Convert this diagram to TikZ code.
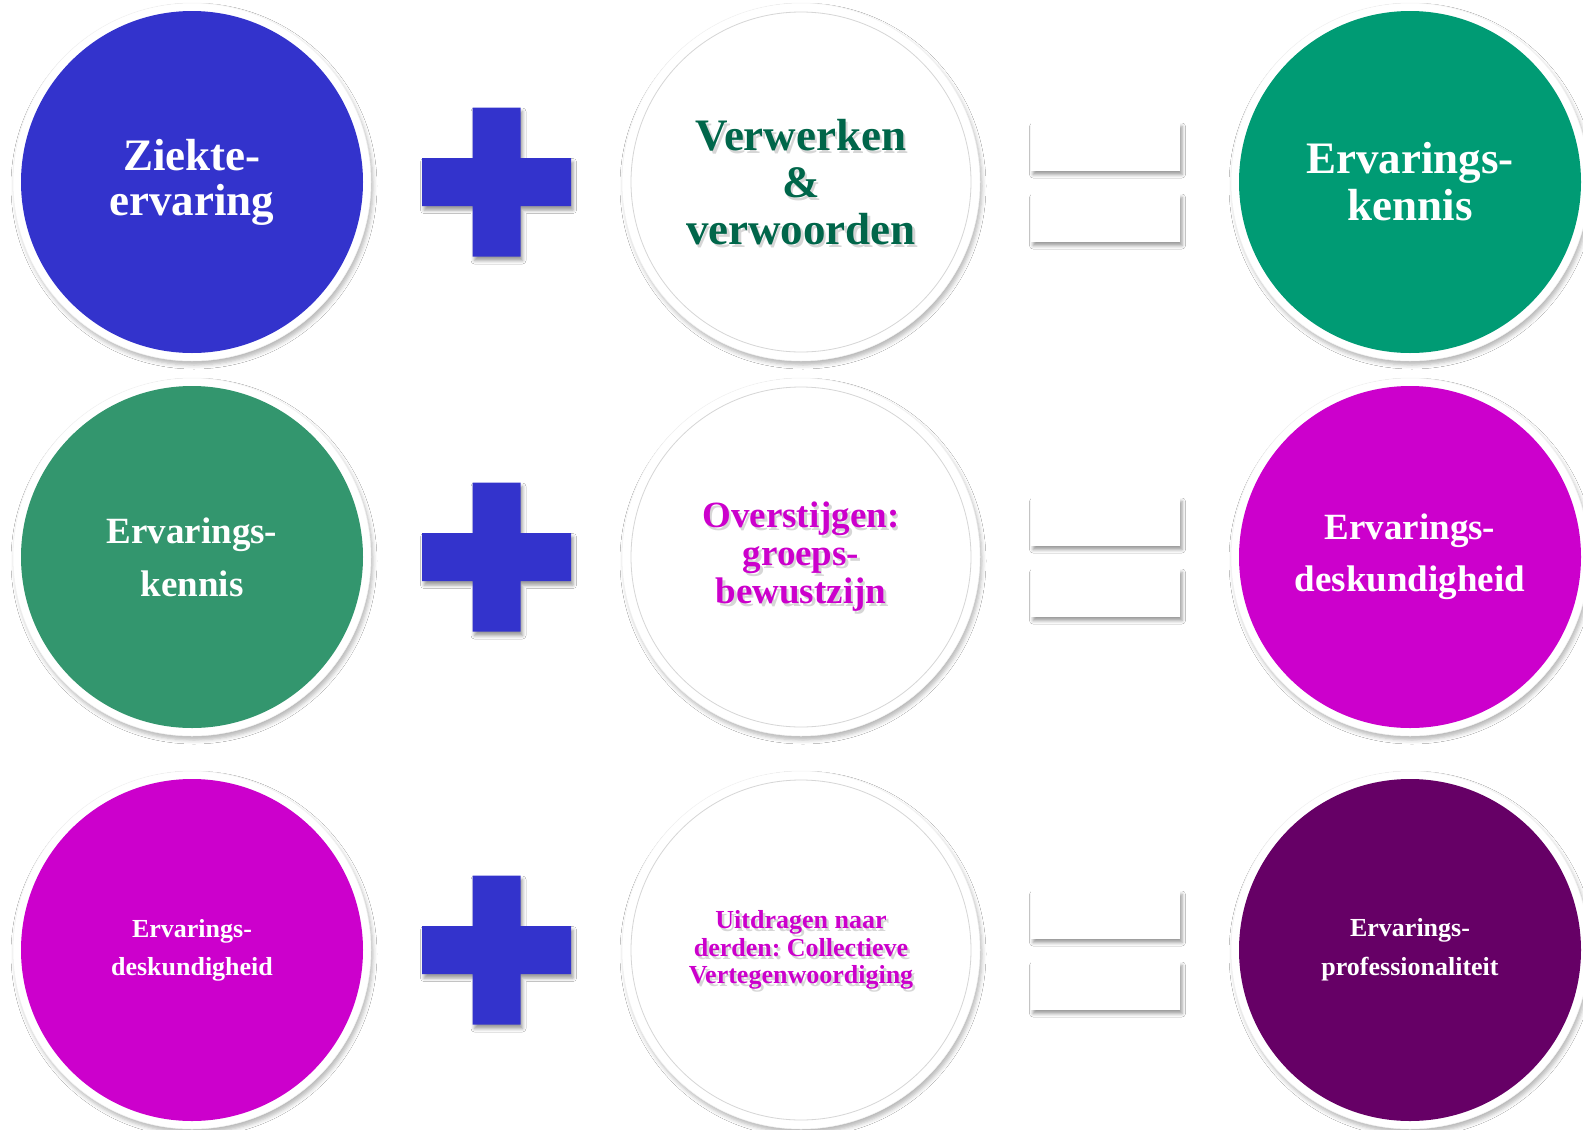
\documentclass[tikz,border=0pt]{standalone}
\usepackage{fontspec}
\setmainfont{Liberation Serif}
\usetikzlibrary{shadows.blur,calc}
\definecolor{cblue}{HTML}{3333CC}
\definecolor{cteal}{HTML}{009B74}
\definecolor{cgreen}{HTML}{33966E}
\definecolor{cmag}{HTML}{CC00CC}
\definecolor{cpurp}{HTML}{660066}
\definecolor{cdgreen}{HTML}{00664A}
\tikzset{
  ringnode/.style={circle, fill=white, draw=black!5, line width=0.5pt, minimum size=358pt, inner sep=0pt,
    blur shadow={shadow xshift=2pt, shadow yshift=-4pt, shadow blur radius=4pt, shadow opacity=28}},
  discnode/.style={circle, fill=#1, minimum size=342pt, inner sep=0pt, text=white, align=center},
  innernode/.style={circle, fill=white, draw=black!16, line width=0.8pt, minimum size=340pt, inner sep=0pt},
  labelnode/.style={align=center, inner sep=0pt},
  barshadow/.style={blur shadow={shadow xshift=2pt, shadow yshift=-4pt, shadow blur radius=3.5pt, shadow opacity=40}},
  eqnode/.style={rectangle, fill=white, minimum width=149pt, minimum height=48pt, inner sep=0pt, barshadow}
}
\newcommand{\colcirc}[6]{%
  \node[ringnode] (#1r) at (#2,#3) {};
  \node[discnode=#4, font=\bfseries\frenchspacing\fontsize#5\selectfont] (#1) at (#2,#3) {#6};
}
\newcommand{\whitecirc}[6]{%
  \node[ringnode] (#1r) at (#2,#3) {};
  \node[innernode] (#1c) at (#2,#3) {};
  \node[labelnode, text=black, text opacity=0.16, font=\bfseries\frenchspacing\fontsize#5\selectfont] (#1s) at ({#2+2.5},{#3+3}) {#6};
  \node[labelnode, text=#4, font=\bfseries\frenchspacing\fontsize#5\selectfont] (#1) at (#2,#3) {#6};
}
\newcommand{\plussign}[2]{%
  \begin{scope}[shift={(#1,#2)}]
    \fill[cblue, barshadow] (-74.5,-24) -- (-24,-24) -- (-24,-74.5) -- (24,-74.5) -- (24,-24) -- (74.5,-24)
      -- (74.5,24) -- (24,24) -- (24,74.5) -- (-24,74.5) -- (-24,24) -- (-74.5,24) -- cycle;
  \end{scope}
}
\newcommand{\equalsign}[3]{%
  \node[eqnode] (#1u) at (#2,{#3-35.5}) {};
  \node[eqnode] (#1d) at (#2,{#3+35.5}) {};
}
\begin{document}
\begin{tikzpicture}[x=1pt,y=-1pt]
\useasboundingbox (0,0) rectangle (1583,1130);
\clip (0,0) rectangle (1583,1130);
\fill[white] (0,0) rectangle (1583,1130);

% Row 1
\colcirc{a1}{192}{182}{cblue}{{45}{45}}{Ziekte-\\ervaring}
\plussign{496.5}{182}
\whitecirc{b1}{801}{182}{cdgreen}{{45}{47}}{Verwerken\\\&\\verwoorden}
\equalsign{e1}{1105.5}{182}
\colcirc{c1}{1410}{182}{cteal}{{45}{47}}{Ervarings-\\kennis}

% Row 2
\colcirc{a2}{192}{557}{cgreen}{{37}{53}}{Ervarings-\\kennis}
\plussign{496.5}{557}
\whitecirc{b2}{801}{557}{cmag}{{37}{38}}{Overstijgen:\\groeps-\\bewustzijn}
\equalsign{e2}{1105.5}{557}
\colcirc{c2}{1410}{557}{cmag}{{37}{52}}{Ervarings-\\deskundigheid}

% Row 3
\colcirc{a3}{192}{950}{cmag}{{26}{38}}{Ervarings-\\deskundigheid}
\plussign{496.5}{950}
\whitecirc{b3}{801}{950}{cmag}{{26}{27.5}}{Uitdragen naar\\derden: Collectieve\\Vertegenwoordiging}
\equalsign{e3}{1105.5}{950}
\colcirc{c3}{1410}{950}{cpurp}{{26}{39}}{Ervarings-\\professionaliteit}
\end{tikzpicture}
\end{document}
